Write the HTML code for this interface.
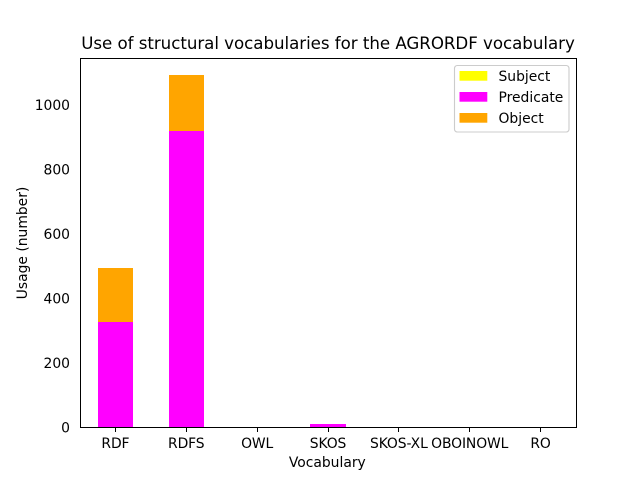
<!DOCTYPE html>
<html>
<head>
<meta charset="utf-8">
<title>Use of structural vocabularies for the AGRORDF vocabulary</title>
<style>
html,body{margin:0;padding:0;background:#fff;}
svg{display:block;}
text{font-family:"DejaVu Sans","Liberation Sans",sans-serif;fill:#000;}
</style>
</head>
<body>
<svg id="chart" xmlns="http://www.w3.org/2000/svg" width="640" height="480" viewBox="0 0 640 480">
  <rect x="0" y="0" width="640" height="480" fill="#fff"/>
  <g id="bars" shape-rendering="crispEdges"></g>
  <g id="axes"></g>
  <g shape-rendering="crispEdges">
    <rect x="80" y="58" width="1" height="370" fill="#000"/>
    <rect x="576" y="58" width="1" height="370" fill="#000"/>
    <rect x="80" y="58" width="497" height="1" fill="#000"/>
    <rect x="80" y="427" width="497" height="1" fill="#000"/>
  </g>
  <text x="328" y="49" text-anchor="middle" font-size="16.67" letter-spacing="-0.035">Use of structural vocabularies for the AGRORDF vocabulary</text>
  <text x="327.3" y="467" text-anchor="middle" font-size="13.89">Vocabulary</text>
  <text x="0" y="0" transform="translate(27,243) rotate(-90)" text-anchor="middle" font-size="13.89">Usage (number)</text>
  <g id="legend">
    <rect x="454.5" y="65.5" width="114.5" height="66.5" rx="2.8" fill="#fff" fill-opacity="0.8" stroke="#ccc" stroke-width="1.11"/>
    <rect x="459.5" y="71" width="27.8" height="9.7" fill="#ffff00"/>
    <text x="498.5" y="81" font-size="13.89">Subject</text>
    <rect x="459.5" y="92" width="27.8" height="9.7" fill="#ff00ff"/>
    <text x="498.5" y="102" font-size="13.89">Predicate</text>
    <rect x="459.5" y="113" width="27.8" height="9.7" fill="#ffa500"/>
    <text x="498.5" y="123" font-size="13.89">Object</text>
  </g>
</svg>
<script>
const categories = ["RDF", "RDFS", "OWL", "SKOS", "SKOS-XL", "OBOINOWL", "RO"];
const subjectValues = [0, 0, 0, 0, 0, 0, 0];
const predicateValues = [327, 919, 0, 10, 0, 0, 0];
const objectValues = [167, 173, 0, 0, 0, 0, 0];
const yTickLabels = [0, 200, 400, 600, 800, 1000];

const NS = "http://www.w3.org/2000/svg";
const plot = { left: 80, right: 576, top: 57.6, bottom: 427.2 };
const barWidth = 0.5;

function xScale(i) {
  return plot.left + (i + 0.5) * (plot.right - plot.left) / categories.length;
}
function totals() {
  return categories.map(function (c, i) {
    return subjectValues[i] + predicateValues[i] + objectValues[i];
  });
}
const yMax = Math.max.apply(null, totals()) * 1.05;
function yScale(v) {
  return plot.bottom - v / yMax * (plot.bottom - plot.top);
}

const barsGroup = document.getElementById("bars");
const axesGroup = document.getElementById("axes");
const unit = (plot.right - plot.left) / categories.length;

function drawSegment(i, base, value, color) {
  const r = document.createElementNS(NS, "rect");
  const x0 = Math.round(xScale(i) - barWidth * unit / 2);
  const x1 = Math.round(xScale(i) + barWidth * unit / 2);
  r.setAttribute("x", x0);
  r.setAttribute("width", x1 - x0);
  r.setAttribute("y", yScale(base + value));
  r.setAttribute("height", Math.max(0, yScale(base) - yScale(base + value)));
  r.setAttribute("fill", color);
  
  
  barsGroup.appendChild(r);
}

categories.forEach(function (c, i) {
  drawSegment(i, 0, subjectValues[i], "#ffff00");
  drawSegment(i, subjectValues[i], predicateValues[i], "#ff00ff");
  drawSegment(i, subjectValues[i] + predicateValues[i], objectValues[i], "#ffa500");

  const tick = document.createElementNS(NS, "rect");
  tick.setAttribute("x", Math.floor(xScale(i)));
  tick.setAttribute("y", 428);
  tick.setAttribute("width", 1);
  tick.setAttribute("height", 4);
  tick.setAttribute("fill", "#000");
  tick.setAttribute("shape-rendering", "crispEdges");
  
  
  axesGroup.appendChild(tick);

  const label = document.createElementNS(NS, "text");
  label.setAttribute("x", xScale(i));
  label.setAttribute("y", 448);
  label.setAttribute("text-anchor", "middle");
  label.setAttribute("font-size", "13.89");
  label.setAttribute("letter-spacing", "-0.1");
  label.textContent = c;
  
  
  axesGroup.appendChild(label);
});

yTickLabels.forEach(function (v) {
  const label = document.createElementNS(NS, "text");
  label.setAttribute("x", 70);
  label.setAttribute("y", yScale(v) + 5.3);
  label.setAttribute("text-anchor", "end");
  label.setAttribute("font-size", "13.89");
  label.textContent = String(v);
  
  
  axesGroup.appendChild(label);
});
</script>
</body>
</html>
